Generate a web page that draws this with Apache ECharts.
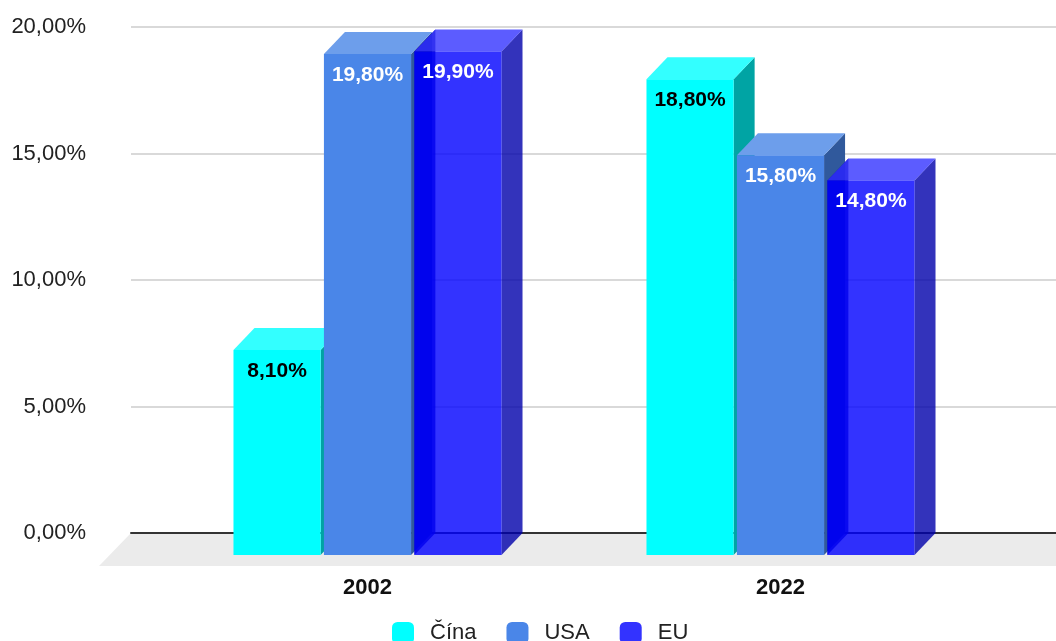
<!DOCTYPE html>
<html>
<head>
<meta charset="utf-8">
<script src="https://cdn.jsdelivr.net/npm/echarts@6/dist/echarts.min.js"></script>
<style>
html,body{margin:0;padding:0;background:#fff;}
#chart{width:1056px;height:641px;}
</style>
</head>
<body>
<div id="chart"></div>
<script>
// ---- data ----
const categories = ['2002', '2022'];
const seriesNames = ['Čína', 'USA', 'EU'];
const china = [8.1, 18.8];
const usa = [19.8, 15.8];
const eu = [19.9, 14.8];
const yMin = 0, yMax = 20, yInterval = 5;

// ---- style ----
const FONT = '"Liberation Sans", Arial, sans-serif';
const DX = 21, DY = 22; // 3D depth
const palettes = [
  { legend: '#00ffff', front: '#00ffff', side: '#00a4a4', top: '#33ffff', label: '#000000', shadow: null },
  { legend: '#4a86e8', front: '#4a86e8', side: '#30599c', top: '#6d9eeb', label: '#ffffff', shadow: 'rgba(0,0,50,0.9)' },
  { legend: '#3333ff', front: 'rgba(0,0,255,0.8)', side: 'rgba(0,0,170,0.8)', top: 'rgba(51,51,255,0.8)', left: 'rgba(0,0,170,0.8)', label: '#ffffff', shadow: 'rgba(0,0,50,0.9)' }
];

function fmt(v) { return v.toFixed(2).replace('.', ',') + '%'; }

function makeRender(si) {
  return function (params, api) {
    const ci = api.value(0), v = api.value(1);
    const base = api.coord([ci, 0]);
    const top = api.coord([ci, v]);
    const band = api.size([1, 0])[0];
    const w = band * 0.211, step = band * 0.219;
    const p = palettes[si];
    const xf = base[0] - DX + (si - 1) * step - w / 2;
    const tf = top[1] + DY, bf = base[1] + DY;
    const children = [];
    if (p.left) {
      children.push({ type: 'polygon', shape: { points: [[xf, tf], [xf + DX, tf - DY], [xf + DX, bf - DY], [xf, bf]] }, style: { fill: p.left } });
    }
    children.push({ type: 'polygon', shape: { points: [[xf + w, tf], [xf + w + DX, tf - DY], [xf + w + DX, bf - DY], [xf + w, bf]] }, style: { fill: p.side } });
    children.push({ type: 'polygon', shape: { points: [[xf, tf], [xf + DX, tf - DY], [xf + w + DX, tf - DY], [xf + w, tf]] }, style: { fill: p.top } });
    children.push({ type: 'rect', shape: { x: xf, y: tf, width: w, height: bf - tf }, style: { fill: p.front } });
    const ts = { text: fmt(v), x: xf + w / 2, y: tf + 21, align: 'center', verticalAlign: 'middle', fill: p.label, font: 'bold 21px ' + FONT };
    if (p.shadow) { ts.shadowColor = p.shadow; ts.shadowBlur = 4; }
    children.push({ type: 'text', style: ts });
    return { type: 'group', children: children };
  };
}

const values = [china, usa, eu];
const series = seriesNames.map((name, si) => ({
  name: name,
  type: 'custom',
  xAxisIndex: 0, yAxisIndex: 0,
  z: 5,
  itemStyle: { color: palettes[si].legend },
  encode: { x: 0, y: 1 },
  data: values[si].map((v, i) => [i, v]),
  renderItem: makeRender(si)
}));

const chart = echarts.init(document.getElementById('chart'), null, { renderer: 'canvas' });
const option = {
  animation: false,
  backgroundColor: '#ffffff',
  grid: [
    { left: 182, right: 48, top: 27, bottom: 108 },
    { left: 131, right: 0, top: 27, bottom: 108 }
  ],
  xAxis: [
    { type: 'category', gridIndex: 0, data: categories,
      axisLine: { show: false }, axisTick: { show: false },
      axisLabel: { margin: 44, color: '#111', fontFamily: FONT, fontWeight: 'bold', fontSize: 22, lineHeight: 22, padding: [0, 42, 0, 0] } },
    { type: 'category', gridIndex: 1, data: categories, z: 3,
      axisLine: { show: true, lineStyle: { color: '#333', width: 2 } }, axisTick: { show: false }, axisLabel: { show: false } }
  ],
  yAxis: [
    { type: 'value', gridIndex: 0, min: yMin, max: yMax, interval: yInterval, show: false },
    { type: 'value', gridIndex: 1, min: yMin, max: yMax, interval: yInterval,
      axisLine: { show: false }, axisTick: { show: false },
      splitLine: { lineStyle: { color: '#cccccc', width: 1.5 } },
      axisLabel: { margin: 45, color: '#222', fontFamily: FONT, fontSize: 22, formatter: v => fmt(v) } }
  ],
  legend: {
    left: 392, top: 622, padding: 0, itemGap: 30, itemWidth: 22, itemHeight: 22, icon: 'roundRect',
    data: seriesNames,
    textStyle: { color: '#222', fontFamily: FONT, fontSize: 22, padding: [0, 0, 0, 11] }
  },
  series: series
};
chart.setOption(option);

// floor under the bars, derived from the axis scale
const y0 = chart.convertToPixel({ yAxisIndex: 1 }, 0);
const xl = 131, xr = 1056;
const FD = 32;
chart.setOption({
  graphic: [{ type: 'polygon', z: 1, silent: true,
    shape: { points: [[xl, y0], [xr + FD, y0], [xr, y0 + FD + 1], [xl - FD, y0 + FD + 1]] },
    style: { fill: '#ebebeb' } }]
});
</script>
</body>
</html>
